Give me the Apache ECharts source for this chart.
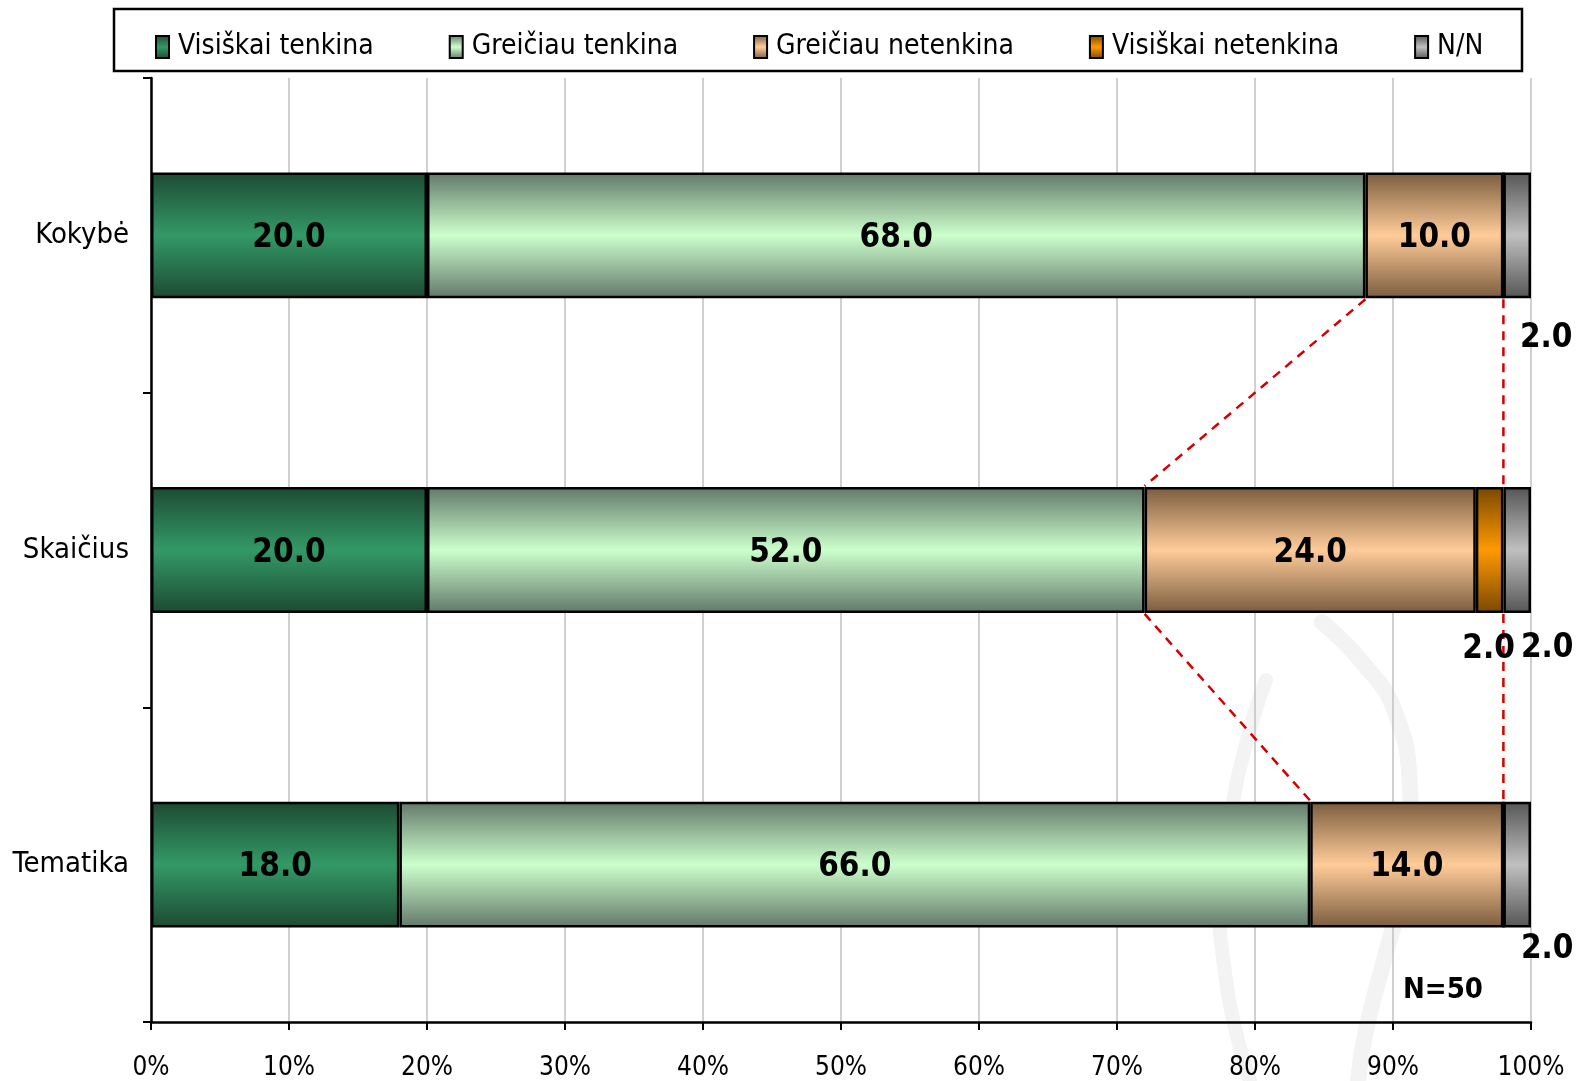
<!DOCTYPE html>
<html>
<head>
<meta charset="utf-8">
<script src="https://cdn.jsdelivr.net/npm/echarts@6/dist/echarts.min.js"></script>
<style>
html,body{margin:0;padding:0;background:#fff;}
#chart{width:1578px;height:1081px;}
</style>
</head>
<body>
<div id="chart"></div>
<script>
// ---- data ----
const categories = ['Kokybė', 'Skaičius', 'Tematika'];
const seriesNames = ['Visiškai tenkina', 'Greičiau tenkina', 'Greičiau netenkina', 'Visiškai netenkina', 'N/N'];
const visiskaiTenkina   = [20, 20, 18];
const greiciauTenkina   = [68, 52, 66];
const greiciauNetenkina = [10, 24, 14];
const visiskaiNetenkina = [0, 2, 0];
const nn                = [2, 2, 2];
const xTicks = [0, 10, 20, 30, 40, 50, 60, 70, 80, 90, 100];
const sampleNote = 'N=50';

// ---- styles ----
const condensed = "'DejaVu Sans Condensed', 'DejaVu Sans', sans-serif";
const palette = [
  ['#1d4a33', '#339966'],
  ['#62786a', '#ccffcc'],
  ['#7a5c3e', '#ffcc99'],
  ['#7a4800', '#ff9900'],
  ['#555555', '#c0c0c0']
];
function grad(p) {
  return new echarts.graphic.LinearGradient(0, 0, 0, 1, [
    {offset: 0, color: p[0]},
    {offset: 0.5, color: p[1]},
    {offset: 1, color: p[0]}
  ]);
}
// label placements for small segments (per series, per category): [dx, dy] from bar bottom centre
const smallLabelOffsets = {
  3: [[0, 0], [-1, 20], [0, 0]],
  4: [[29, 24], [30, 19], [30, 5]]
};

const allValues = [visiskaiTenkina, greiciauTenkina, greiciauNetenkina, visiskaiNetenkina, nn];

function buildSeries(idx) {
  const vals = allValues[idx];
  return {
    name: seriesNames[idx],
    type: 'bar',
    stack: 'total',
    barWidth: '40%',
    itemStyle: {color: grad(palette[idx]), borderColor: '#000', borderWidth: 2.5},
    emphasis: {disabled: true},
    data: vals.map((v, ci) => {
      const item = {value: v};
      if (v === 0) {
        item.label = {show: false};
      } else if (v < 5) {
        const off = (smallLabelOffsets[idx] || [])[ci] || [0, 0];
        item.label = {show: true, position: 'bottom', distance: 0, offset: off};
      }
      return item;
    }),
    label: {
      show: true,
      position: 'inside',
      offset: [0, 3],
      formatter: p => p.value.toFixed(1),
      fontFamily: condensed,
      fontWeight: 'bold',
      fontSize: 33,
      lineHeight: 33,
      color: '#000'
    }
  };
}

// cumulative boundaries for series lines
function cumAfter(k) {
  return categories.map((c, ci) => {
    let s = 0;
    for (let j = 0; j <= k; j++) s += allValues[j][ci];
    return s;
  });
}
const seriesLineBoundaries = [cumAfter(1), cumAfter(3)];

const seriesLines = {
  type: 'custom',
  name: 'seriesLines',
  coordinateSystem: 'cartesian2d',
  silent: true,
  data: categories.slice(0, -1).map((c, i) => [0, i]),
  encode: {x: 0, y: 1},
  renderItem: function (params, api) {
    const i = params.dataIndex;
    const band = api.size([0, 1])[1];
    const half = band * 0.4 / 2;
    const children = seriesLineBoundaries.map(b => {
      const p1 = api.coord([b[i], i]);
      const p2 = api.coord([b[i + 1], i + 1]);
      return {
        type: 'line',
        shape: {x1: p1[0], y1: p1[1] + half + 1, x2: p2[0], y2: p2[1] - half - 1},
        style: {stroke: '#d40000', lineWidth: 2.5, lineDash: [9, 7]}
      };
    });
    return {type: 'group', children: children};
  },
  z: 1
};

const chart = echarts.init(document.getElementById('chart'), null, {renderer: 'canvas'});
const option = {
  animation: false,
  backgroundColor: '#fff',
  graphic: [
    {
      type: 'polyline', z: -10, silent: true,
      shape: {points: [[1322,622],[1362,662],[1395,712],[1410,790],[1404,880],[1384,960],[1366,1030],[1358,1081]], smooth: 0.5},
      style: {stroke: '#f3f3f3', lineWidth: 16, fill: null, lineCap: 'round'}
    },
    {
      type: 'polyline', z: -10, silent: true,
      shape: {points: [[1266,680],[1247,740],[1230,820],[1220,900],[1226,980],[1238,1040],[1250,1081]], smooth: 0.5},
      style: {stroke: '#f3f3f3', lineWidth: 14, fill: null, lineCap: 'round'}
    },
    {
      type: 'rect', z: 0, silent: true,
      shape: {x: 114, y: 9, width: 1408, height: 62},
      style: {fill: '#fff', stroke: '#000', lineWidth: 2.5}
    },
    {
      type: 'text', left: 1403, top: 976, z: 100,
      style: {text: sampleNote, font: 'bold 29px ' + condensed, fill: '#000'}
    }
  ],
  legend: {
    data: seriesNames,
    left: 155,
    top: 33,
    padding: 0,
    itemGap: 75,
    itemWidth: 13,
    itemHeight: 22,
    icon: 'rect',
    selectedMode: false,
    z: 10,
    textStyle: {fontFamily: condensed, fontSize: 28, color: '#000', padding: [0, 0, 0, 4]}
  },
  grid: {left: 151, right: 47, top: 78, bottom: 53, containLabel: false},
  xAxis: {
    type: 'value',
    min: 0,
    max: 100,
    interval: 10,
    axisLine: {show: true, lineStyle: {color: '#000', width: 2.5}},
    axisTick: {show: true, length: 8, lineStyle: {color: '#000', width: 2}},
    axisLabel: {formatter: v => xTicks.includes(v) ? v + '%' : '', fontFamily: condensed, fontSize: 26, color: '#000', margin: 33},
    splitLine: {show: true, lineStyle: {color: '#c0c0c0', width: 1.5}}
  },
  yAxis: {
    type: 'category',
    data: categories,
    inverse: true,
    axisLine: {show: true, lineStyle: {color: '#000', width: 2.5}},
    axisTick: {show: true, length: 8, lineStyle: {color: '#000', width: 2}},
    axisLabel: {fontFamily: condensed, fontSize: 29, color: '#000', margin: 22, padding: [10, 0, 0, 0]},
    splitLine: {show: false}
  },
  series: [0, 1, 2, 3, 4].map(buildSeries).concat([seriesLines])
};
chart.setOption(option);
</script>
</body>
</html>
